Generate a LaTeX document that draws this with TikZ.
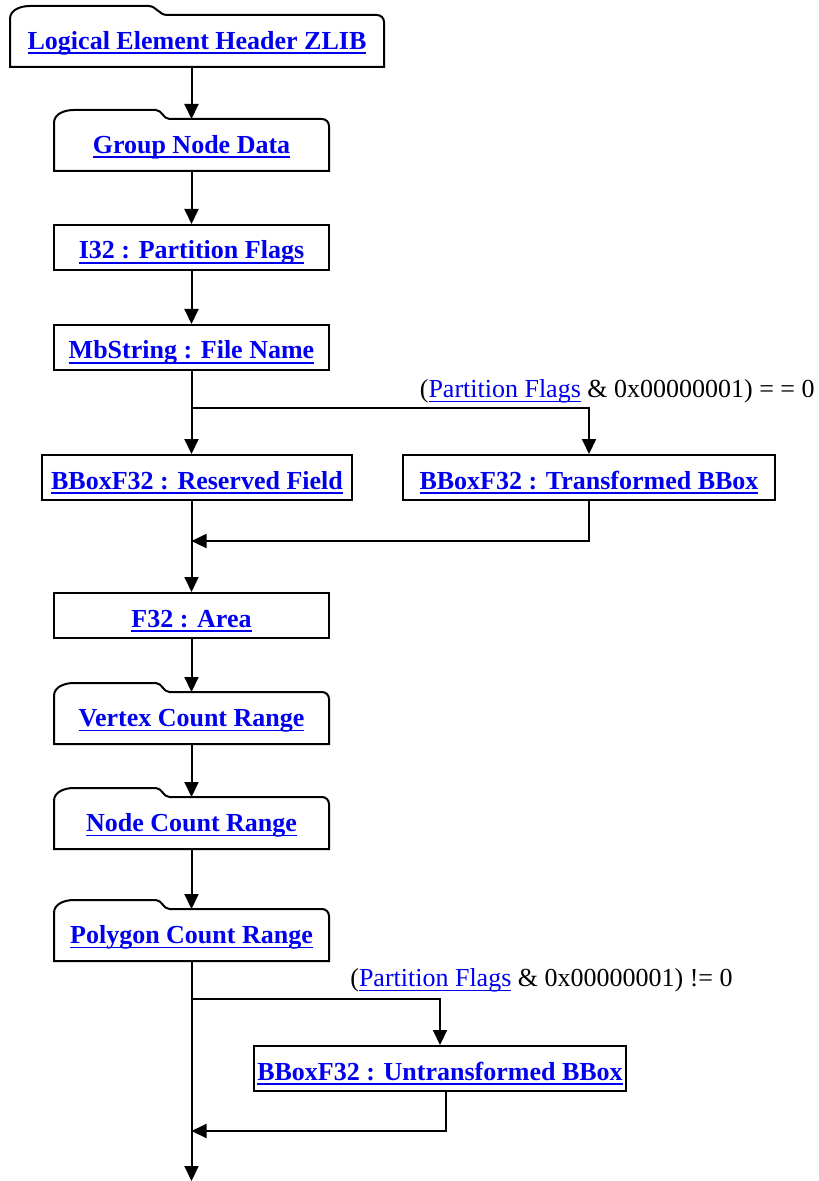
\documentclass[tikz,border=0pt]{standalone}
\usepackage{fontspec}
\setmainfont{Liberation Serif}
\usetikzlibrary{arrows.meta,positioning,calc}
\definecolor{linkblue}{RGB}{0,0,238}
\newcommand\lnk[2][0.9pt]{{\color{linkblue}\setbox0\hbox{#2}\rlap{\rule[-2.4pt]{\wd0}{#1}}\box0}}

\begin{document}
\begin{tikzpicture}[x=0.5pt,y=-0.5pt,>={Triangle[width=7pt,length=7.5pt]},
 font=\fontsize{13}{15}\selectfont,
 box/.style={draw,line width=1pt,minimum width=137.5pt,minimum height=22.5pt,inner sep=0pt,text height=11.5pt,text depth=0pt,font=\fontsize{13}{15}\selectfont\bfseries},
 tabbox/.style={box,draw=none,outer sep=0pt,minimum height=26pt,text height=8.5pt},
 cond/.style={inner sep=0pt},
 link/.style={->,line width=1pt}]
\useasboundingbox (0,0) rectangle (818,1181);
\node[tabbox,minimum width=187pt] (zlib) at (197,41) {\lnk{Logical Element Header ZLIB}};
\node[tabbox,below=26pt of zlib,xshift=-2.75pt] (group) {\lnk{Group Node Data}};
\node[box,below=26.5pt of group] (flags) {\lnk{I32 : Partition Flags}};
\node[box,below=26.5pt of flags] (file) {\lnk{MbString : File Name}};
\node[box,below=41.5pt of file,xshift=2.75pt,minimum width=155pt] (reserved) {\lnk{BBoxF32 : Reserved Field}};
\node[box,right=24.5pt of reserved,minimum width=186pt] (trans) {\lnk{BBoxF32 : Transformed BBox}};
\node[box,below=45.5pt of reserved,xshift=-2.75pt] (area) {\lnk{F32 : Area}};
\node[tabbox,below=26.5pt of area] (vertex) {\lnk{Vertex Count Range}};
\node[tabbox,below=26.5pt of vertex] (nodecnt) {\lnk{Node Count Range}};
\node[tabbox,below=30pt of nodecnt] (polygon) {\lnk{Polygon Count Range}};
\node[box,below=42pt of polygon,xshift=124.25pt,minimum width=186pt] (untrans) {\lnk{BBoxF32 : Untransformed BBox}};
% folder tabs
\foreach \n in {zlib,group,vertex,nodecnt,polygon}
  \draw[line width=1pt] (\n.south west) -- ([yshift=-2pt]\n.north west) to[out=90,in=180] ([xshift=10pt,yshift=4.5pt]\n.north west)
   -- ($(\n.north west)!0.37!(\n.north east)+(0,4.5pt)$) to[out=0,in=180] ($(\n.north west)!0.42!(\n.north east)$)
   -- ([xshift=-3.5pt]\n.north east) to[out=0,in=90] ([yshift=-3.5pt]\n.north east) -- (\n.south east) -- cycle;
% main flow
\draw[link] (group.north |- zlib.south) -- (group.north);
\draw[link] (group.south) -- (flags.north);
\draw[link] (flags.south) -- (file.north);
\draw[link] (file.south) -- (file.south |- reserved.north);
\draw[link] (area.north |- reserved.south) -- (area.north);
\draw[link] (area.south) -- (vertex.north);
\draw[link] (vertex.south) -- (nodecnt.north);
\draw[link] (nodecnt.south) -- (polygon.north);
\coordinate (endpt) at ([yshift=-110pt]polygon.south);
\draw[link] (polygon.south) -- (endpt);
% first option
\coordinate (split1) at ($(file.south)!0.446!(file.south |- reserved.north)$);
\coordinate (merge1) at ($(area.north |- reserved.south)!0.44!(area.north)$);
\draw[link] (split1) -| (trans.north);
\draw[link] (trans.south) |- (merge1);
\node[cond,anchor=base east] (cond1) at ($(split1 -| trans.east)+(19.5pt,5.5pt)$) {(\lnk[0.5pt]{Partition Flags} \& 0x00000001) = = 0};
% second option
\coordinate (split2) at ([yshift=-19pt]polygon.south);
\coordinate (merge2) at ([yshift=-85pt]polygon.south);
\draw[link] (split2) -| (untrans.north);
\draw[link] ([xshift=3pt]untrans.south) |- (merge2);
\node[cond,anchor=base east] (cond2) at ($(split2 -| untrans.east)+(53pt,6.5pt)$) {(\lnk[0.5pt]{Partition Flags} \& 0x00000001) != 0};
\end{tikzpicture}
\end{document}
